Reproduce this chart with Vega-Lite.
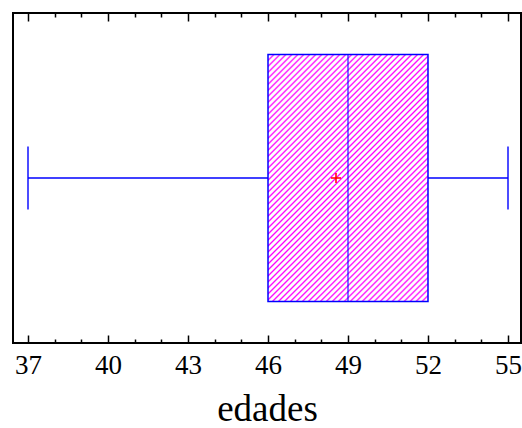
{
  "$schema": "https://vega.github.io/schema/vega-lite/v6.json",
  "width": 508,
  "height": 330,
  "autosize": {"type": "none"},
  "padding": {"left": 13, "top": 13, "right": 1, "bottom": 85},
  "background": "white",
  "config": {
    "view": {"stroke": "black", "strokeWidth": 2},
    "font": "Liberation Serif"
  },
  "data": {"values": [{"var": "edades", "min": 37, "q1": 46, "median": 49, "q3": 52, "max": 55, "mean": 48.55}]},
  "resolve": {"axis": {"x": "independent"}, "scale": {"x": "shared"}},
  "layer": [
    {
      "mark": {"type": "rule", "color": "#0000ff", "strokeWidth": 1.5},
      "encoding": {
        "x": {"field": "min", "type": "quantitative",
          "scale": {"domain": [36.4375, 55.4875], "nice": false, "zero": false},
          "axis": {
            "orient": "bottom",
            "values": [37,38,39,40,41,42,43,44,45,46,47,48,49,50,51,52,53,54,55],
            "domain": false, "grid": false,
            "tickSize": {"condition": {"test": "datum.value % 3 == 1", "value": -8}, "value": -4},
            "tickColor": "black", "tickWidth": 1.5,
            "labelExpr": "datum.value % 3 == 1 ? datum.label : ''",
            "labelFont": "Liberation Serif", "labelFontSize": 27, "labelColor": "black",
            "labelPadding": 17, "labelOverlap": false, "labelFlush": false, "labelBound": false,
            "title": "edades", "titleFont": "Liberation Serif", "titleFontSize": 37,
            "titleFontWeight": "normal", "titleColor": "black", "titlePadding": 9
          }
        },
        "x2": {"field": "q1"},
        "y": {"field": "var", "type": "nominal", "axis": null}
      }
    },
    {
      "mark": {"type": "rule", "color": "#0000ff", "strokeWidth": 1.5},
      "encoding": {
        "x": {"field": "q3", "type": "quantitative", "axis": null},
        "x2": {"field": "max"},
        "y": {"field": "var", "type": "nominal", "axis": null}
      }
    },
    {
      "mark": {"type": "tick", "color": "#0000ff", "size": 63, "thickness": 2, "orient": "vertical"},
      "encoding": {
        "x": {"field": "min", "type": "quantitative", "axis": null},
        "y": {"field": "var", "type": "nominal", "axis": null}
      }
    },
    {
      "mark": {"type": "tick", "color": "#0000ff", "size": 63, "thickness": 2, "orient": "vertical"},
      "encoding": {
        "x": {"field": "max", "type": "quantitative", "axis": null},
        "y": {"field": "var", "type": "nominal", "axis": null}
      }
    },
    {
      "mark": {
        "type": "bar", "size": 247, "stroke": "#0000ff", "strokeWidth": 1.5, "fillOpacity": 1,
        "fill": {
          "gradient": "linear", "x1": 0, "y1": 0, "x2": 0.7519, "y2": 1.1607,
          "stops": [
            {"offset": 0.0000, "color": "#f0f"}, {"offset": 0.0044, "color": "#fff"}, {"offset": 0.0103, "color": "#fff"},
            {"offset": 0.0147, "color": "#f0f"}, {"offset": 0.0191, "color": "#fff"}, {"offset": 0.0250, "color": "#fff"},
            {"offset": 0.0294, "color": "#f0f"}, {"offset": 0.0338, "color": "#fff"}, {"offset": 0.0397, "color": "#fff"},
            {"offset": 0.0441, "color": "#f0f"}, {"offset": 0.0485, "color": "#fff"}, {"offset": 0.0544, "color": "#fff"},
            {"offset": 0.0588, "color": "#f0f"}, {"offset": 0.0632, "color": "#fff"}, {"offset": 0.0691, "color": "#fff"},
            {"offset": 0.0735, "color": "#f0f"}, {"offset": 0.0779, "color": "#fff"}, {"offset": 0.0838, "color": "#fff"},
            {"offset": 0.0882, "color": "#f0f"}, {"offset": 0.0926, "color": "#fff"}, {"offset": 0.0985, "color": "#fff"},
            {"offset": 0.1029, "color": "#f0f"}, {"offset": 0.1073, "color": "#fff"}, {"offset": 0.1132, "color": "#fff"},
            {"offset": 0.1176, "color": "#f0f"}, {"offset": 0.1220, "color": "#fff"}, {"offset": 0.1279, "color": "#fff"},
            {"offset": 0.1324, "color": "#f0f"}, {"offset": 0.1368, "color": "#fff"}, {"offset": 0.1427, "color": "#fff"},
            {"offset": 0.1471, "color": "#f0f"}, {"offset": 0.1515, "color": "#fff"}, {"offset": 0.1574, "color": "#fff"},
            {"offset": 0.1618, "color": "#f0f"}, {"offset": 0.1662, "color": "#fff"}, {"offset": 0.1721, "color": "#fff"},
            {"offset": 0.1765, "color": "#f0f"}, {"offset": 0.1809, "color": "#fff"}, {"offset": 0.1868, "color": "#fff"},
            {"offset": 0.1912, "color": "#f0f"}, {"offset": 0.1956, "color": "#fff"}, {"offset": 0.2015, "color": "#fff"},
            {"offset": 0.2059, "color": "#f0f"}, {"offset": 0.2103, "color": "#fff"}, {"offset": 0.2162, "color": "#fff"},
            {"offset": 0.2206, "color": "#f0f"}, {"offset": 0.2250, "color": "#fff"}, {"offset": 0.2309, "color": "#fff"},
            {"offset": 0.2353, "color": "#f0f"}, {"offset": 0.2397, "color": "#fff"}, {"offset": 0.2456, "color": "#fff"},
            {"offset": 0.2500, "color": "#f0f"}, {"offset": 0.2544, "color": "#fff"}, {"offset": 0.2603, "color": "#fff"},
            {"offset": 0.2647, "color": "#f0f"}, {"offset": 0.2691, "color": "#fff"}, {"offset": 0.2750, "color": "#fff"},
            {"offset": 0.2794, "color": "#f0f"}, {"offset": 0.2838, "color": "#fff"}, {"offset": 0.2897, "color": "#fff"},
            {"offset": 0.2941, "color": "#f0f"}, {"offset": 0.2985, "color": "#fff"}, {"offset": 0.3044, "color": "#fff"},
            {"offset": 0.3088, "color": "#f0f"}, {"offset": 0.3132, "color": "#fff"}, {"offset": 0.3191, "color": "#fff"},
            {"offset": 0.3235, "color": "#f0f"}, {"offset": 0.3279, "color": "#fff"}, {"offset": 0.3338, "color": "#fff"},
            {"offset": 0.3382, "color": "#f0f"}, {"offset": 0.3426, "color": "#fff"}, {"offset": 0.3485, "color": "#fff"},
            {"offset": 0.3529, "color": "#f0f"}, {"offset": 0.3573, "color": "#fff"}, {"offset": 0.3632, "color": "#fff"},
            {"offset": 0.3676, "color": "#f0f"}, {"offset": 0.3720, "color": "#fff"}, {"offset": 0.3779, "color": "#fff"},
            {"offset": 0.3824, "color": "#f0f"}, {"offset": 0.3868, "color": "#fff"}, {"offset": 0.3927, "color": "#fff"},
            {"offset": 0.3971, "color": "#f0f"}, {"offset": 0.4015, "color": "#fff"}, {"offset": 0.4074, "color": "#fff"},
            {"offset": 0.4118, "color": "#f0f"}, {"offset": 0.4162, "color": "#fff"}, {"offset": 0.4221, "color": "#fff"},
            {"offset": 0.4265, "color": "#f0f"}, {"offset": 0.4309, "color": "#fff"}, {"offset": 0.4368, "color": "#fff"},
            {"offset": 0.4412, "color": "#f0f"}, {"offset": 0.4456, "color": "#fff"}, {"offset": 0.4515, "color": "#fff"},
            {"offset": 0.4559, "color": "#f0f"}, {"offset": 0.4603, "color": "#fff"}, {"offset": 0.4662, "color": "#fff"},
            {"offset": 0.4706, "color": "#f0f"}, {"offset": 0.4750, "color": "#fff"}, {"offset": 0.4809, "color": "#fff"},
            {"offset": 0.4853, "color": "#f0f"}, {"offset": 0.4897, "color": "#fff"}, {"offset": 0.4956, "color": "#fff"},
            {"offset": 0.5000, "color": "#f0f"}, {"offset": 0.5044, "color": "#fff"}, {"offset": 0.5103, "color": "#fff"},
            {"offset": 0.5147, "color": "#f0f"}, {"offset": 0.5191, "color": "#fff"}, {"offset": 0.5250, "color": "#fff"},
            {"offset": 0.5294, "color": "#f0f"}, {"offset": 0.5338, "color": "#fff"}, {"offset": 0.5397, "color": "#fff"},
            {"offset": 0.5441, "color": "#f0f"}, {"offset": 0.5485, "color": "#fff"}, {"offset": 0.5544, "color": "#fff"},
            {"offset": 0.5588, "color": "#f0f"}, {"offset": 0.5632, "color": "#fff"}, {"offset": 0.5691, "color": "#fff"},
            {"offset": 0.5735, "color": "#f0f"}, {"offset": 0.5779, "color": "#fff"}, {"offset": 0.5838, "color": "#fff"},
            {"offset": 0.5882, "color": "#f0f"}, {"offset": 0.5926, "color": "#fff"}, {"offset": 0.5985, "color": "#fff"},
            {"offset": 0.6029, "color": "#f0f"}, {"offset": 0.6073, "color": "#fff"}, {"offset": 0.6132, "color": "#fff"},
            {"offset": 0.6176, "color": "#f0f"}, {"offset": 0.6220, "color": "#fff"}, {"offset": 0.6279, "color": "#fff"},
            {"offset": 0.6324, "color": "#f0f"}, {"offset": 0.6368, "color": "#fff"}, {"offset": 0.6427, "color": "#fff"},
            {"offset": 0.6471, "color": "#f0f"}, {"offset": 0.6515, "color": "#fff"}, {"offset": 0.6574, "color": "#fff"},
            {"offset": 0.6618, "color": "#f0f"}, {"offset": 0.6662, "color": "#fff"}, {"offset": 0.6721, "color": "#fff"},
            {"offset": 0.6765, "color": "#f0f"}, {"offset": 0.6809, "color": "#fff"}, {"offset": 0.6868, "color": "#fff"},
            {"offset": 0.6912, "color": "#f0f"}, {"offset": 0.6956, "color": "#fff"}, {"offset": 0.7015, "color": "#fff"},
            {"offset": 0.7059, "color": "#f0f"}, {"offset": 0.7103, "color": "#fff"}, {"offset": 0.7162, "color": "#fff"},
            {"offset": 0.7206, "color": "#f0f"}, {"offset": 0.7250, "color": "#fff"}, {"offset": 0.7309, "color": "#fff"},
            {"offset": 0.7353, "color": "#f0f"}, {"offset": 0.7397, "color": "#fff"}, {"offset": 0.7456, "color": "#fff"},
            {"offset": 0.7500, "color": "#f0f"}, {"offset": 0.7544, "color": "#fff"}, {"offset": 0.7603, "color": "#fff"},
            {"offset": 0.7647, "color": "#f0f"}, {"offset": 0.7691, "color": "#fff"}, {"offset": 0.7750, "color": "#fff"},
            {"offset": 0.7794, "color": "#f0f"}, {"offset": 0.7838, "color": "#fff"}, {"offset": 0.7897, "color": "#fff"},
            {"offset": 0.7941, "color": "#f0f"}, {"offset": 0.7985, "color": "#fff"}, {"offset": 0.8044, "color": "#fff"},
            {"offset": 0.8088, "color": "#f0f"}, {"offset": 0.8132, "color": "#fff"}, {"offset": 0.8191, "color": "#fff"},
            {"offset": 0.8235, "color": "#f0f"}, {"offset": 0.8279, "color": "#fff"}, {"offset": 0.8338, "color": "#fff"},
            {"offset": 0.8382, "color": "#f0f"}, {"offset": 0.8426, "color": "#fff"}, {"offset": 0.8485, "color": "#fff"},
            {"offset": 0.8529, "color": "#f0f"}, {"offset": 0.8573, "color": "#fff"}, {"offset": 0.8632, "color": "#fff"},
            {"offset": 0.8676, "color": "#f0f"}, {"offset": 0.8720, "color": "#fff"}, {"offset": 0.8779, "color": "#fff"},
            {"offset": 0.8824, "color": "#f0f"}, {"offset": 0.8868, "color": "#fff"}, {"offset": 0.8927, "color": "#fff"},
            {"offset": 0.8971, "color": "#f0f"}, {"offset": 0.9015, "color": "#fff"}, {"offset": 0.9074, "color": "#fff"},
            {"offset": 0.9118, "color": "#f0f"}, {"offset": 0.9162, "color": "#fff"}, {"offset": 0.9221, "color": "#fff"},
            {"offset": 0.9265, "color": "#f0f"}, {"offset": 0.9309, "color": "#fff"}, {"offset": 0.9368, "color": "#fff"},
            {"offset": 0.9412, "color": "#f0f"}, {"offset": 0.9456, "color": "#fff"}, {"offset": 0.9515, "color": "#fff"},
            {"offset": 0.9559, "color": "#f0f"}, {"offset": 0.9603, "color": "#fff"}, {"offset": 0.9662, "color": "#fff"},
            {"offset": 0.9706, "color": "#f0f"}, {"offset": 0.9750, "color": "#fff"}, {"offset": 0.9809, "color": "#fff"},
            {"offset": 0.9853, "color": "#f0f"}, {"offset": 0.9897, "color": "#fff"}, {"offset": 0.9956, "color": "#fff"},
            {"offset": 1.0000, "color": "#f0f"}
          ]
        }
      },
      "encoding": {
        "x": {"field": "q1", "type": "quantitative", "axis": null},
        "x2": {"field": "q3"},
        "y": {"field": "var", "type": "nominal", "axis": null}
      }
    },
    {
      "mark": {"type": "tick", "color": "#0000ff", "size": 247, "thickness": 1.5, "orient": "vertical"},
      "encoding": {
        "x": {"field": "median", "type": "quantitative", "axis": null},
        "y": {"field": "var", "type": "nominal", "axis": null}
      }
    },
    {
      "mark": {"type": "point", "shape": "M-1,0L1,0M0,-1L0,1", "filled": false, "stroke": "#ff0000", "strokeWidth": 1.5, "size": 100, "opacity": 1},
      "encoding": {
        "x": {"field": "mean", "type": "quantitative",
          "axis": {
            "orient": "top",
            "values": [37,38,39,40,41,42,43,44,45,46,47,48,49,50,51,52,53,54,55],
            "domain": false, "grid": false, "labels": false, "title": null,
            "tickSize": {"condition": {"test": "datum.value % 3 == 1", "value": -8}, "value": -4},
            "tickColor": "black", "tickWidth": 1.5
          }
        },
        "y": {"field": "var", "type": "nominal", "axis": null}
      }
    }
  ]
}
